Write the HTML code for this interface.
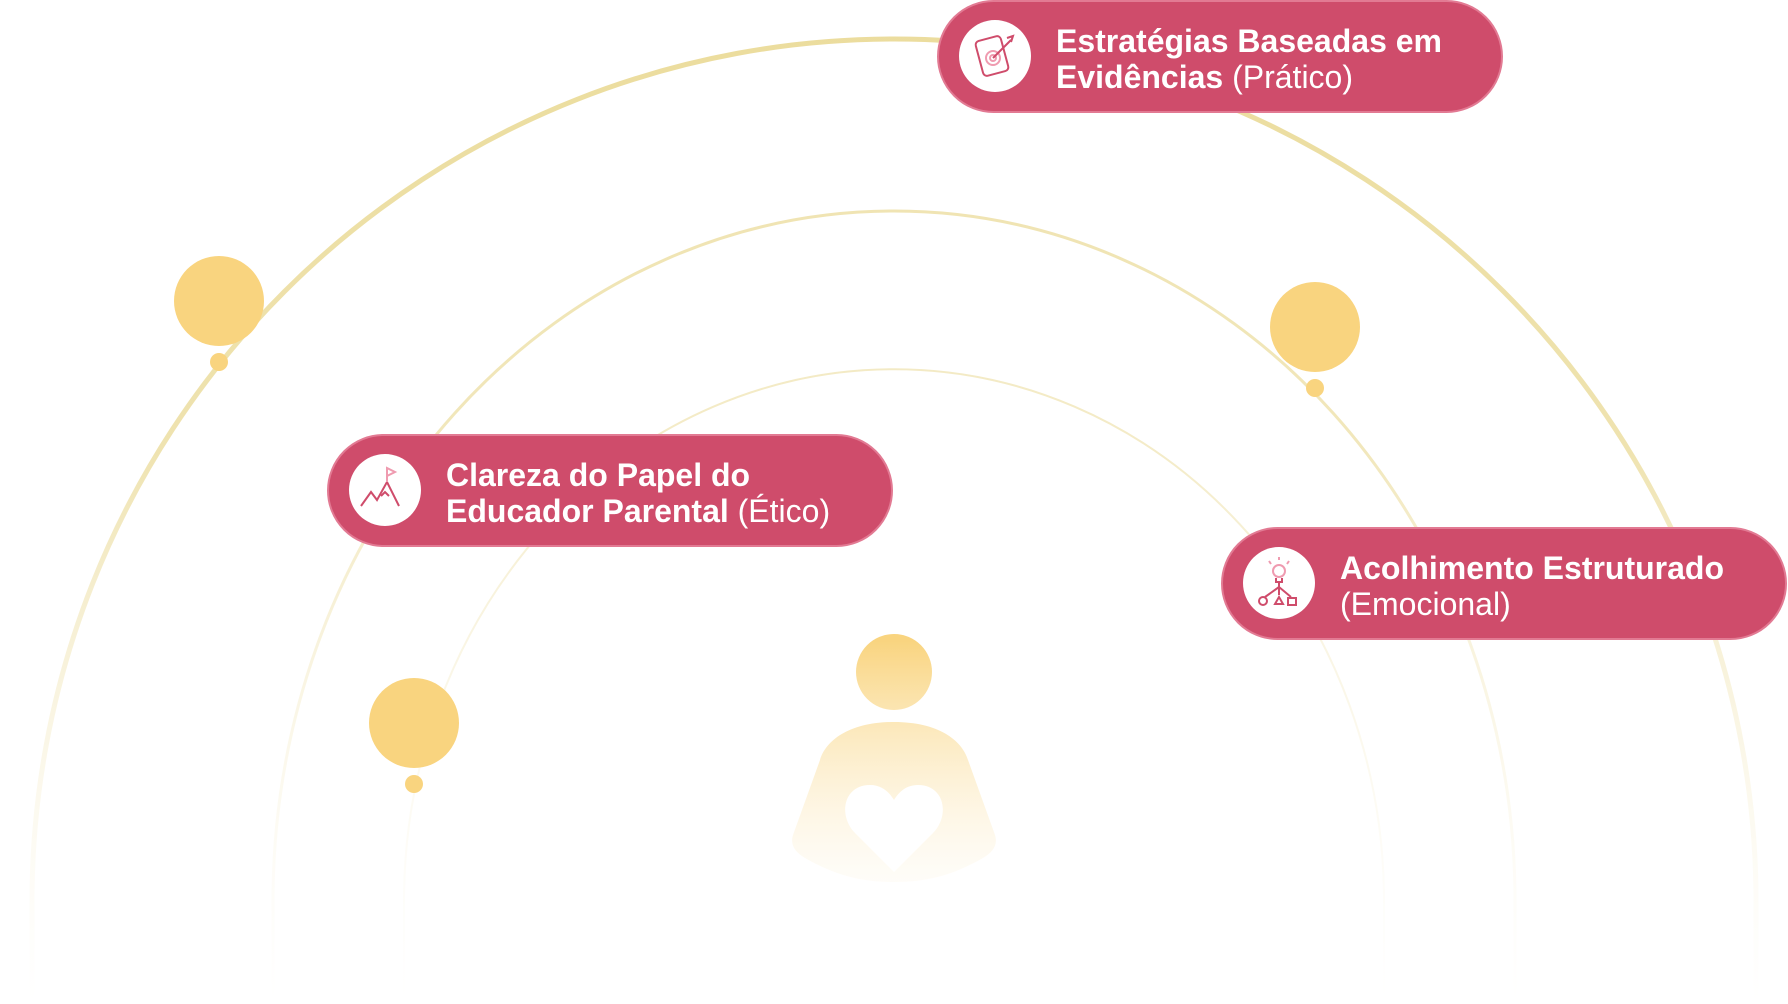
<!DOCTYPE html>
<html><head><meta charset="utf-8"><style>
html,body{margin:0;padding:0;background:#fff;width:1788px;height:1004px;overflow:hidden;}
body{position:relative;font-family:"Liberation Sans",sans-serif;}
.pill{position:absolute;background:#cf4c6b;border:2px solid #e27a93;border-radius:60px;box-sizing:border-box;height:113px;width:566px;}
.ic{position:absolute;width:72px;height:72px;border-radius:50%;background:#fff;top:18px;left:20px;}
.t{position:absolute;left:117px;top:21px;color:#fff;font-size:32px;line-height:36px;font-weight:bold;white-space:nowrap;}
.t span{font-weight:normal;}
</style></head><body>
<svg width="1788" height="1004" style="position:absolute;left:0;top:0;display:block">
<defs>
<linearGradient id="fade" x1="0" y1="0" x2="0" y2="1004" gradientUnits="userSpaceOnUse">
<stop offset="0" stop-color="#ebdc9c"/><stop offset="0.45" stop-color="#efe3b0"/><stop offset="1" stop-color="#fbf6e6" stop-opacity="0"/></linearGradient>
<linearGradient id="body" x1="0" y1="640" x2="0" y2="885" gradientUnits="userSpaceOnUse">
<stop offset="0" stop-color="#f9d47f"/><stop offset="1" stop-color="#fdf4df" stop-opacity="0.2"/></linearGradient>
</defs>
<g fill="none" stroke="url(#fade)">
<path d="M32 1000 L32 901 A862 862 0 0 1 1756 901 L1756 1000" stroke-width="5"/>
<path d="M273 1000 L273 901 A621 690 0 0 1 1515 901 L1515 1000" stroke-width="3" opacity="0.85"/>
<path d="M404 1000 L404 901 A490 532 0 0 1 1384 901 L1384 1000" stroke-width="2" opacity="0.7"/>
</g>
<g fill="#f9d47f">
<circle cx="219" cy="301" r="45"/><circle cx="219" cy="362" r="9"/>
<circle cx="1315" cy="327" r="45"/><circle cx="1315" cy="388" r="9"/>
<circle cx="414" cy="723" r="45"/><circle cx="414" cy="784" r="9"/>
</g>
<circle cx="894" cy="672" r="38" fill="url(#body)"/>
<path d="M894 722 C850 722 826 740 820 760 L793 835 C790 845 795 852 805 858 C835 875 860 882 894 882 C928 882 953 875 983 858 C993 852 998 845 995 835 L968 760 C962 740 938 722 894 722Z" fill="url(#body)"/>
<path d="M894 872 L855 833 C838 816 843 785 870 785 C882 785 889 792 894 800 C899 792 906 785 918 785 C945 785 950 816 933 833Z" fill="#fff"/>
</svg>

<div class="pill" style="left:937px;top:0px;">
<div class="ic"><svg width="72" height="72" fill="none" stroke="#cf4c6b" stroke-width="2"><rect x="20" y="18" width="26" height="36" rx="4" transform="rotate(-15 33 36)"/><circle cx="34" cy="38" r="7" stroke="#ef9bb0"/><circle cx="34" cy="38" r="3" stroke="#ef9bb0"/><path d="M34 38 L52 20 M48 18 L54 16 L52 22"/></svg></div>
<div class="t">Estratégias Baseadas em<br>Evidências <span>(Prático)</span></div>
</div>

<div class="pill" style="left:327px;top:434px;">
<div class="ic"><svg width="72" height="72" fill="none" stroke="#cf4c6b" stroke-width="2"><path d="M12 52 L22 38 L28 46 L38 28 L50 52"/><path d="M38 28 L38 14 L46 18 L38 22" stroke="#ef9bb0"/><path d="M32 42 L36 38 L40 42" /></svg></div>
<div class="t">Clareza do Papel do<br>Educador Parental <span>(Ético)</span></div>
</div>

<div class="pill" style="left:1221px;top:527px;">
<div class="ic"><svg width="72" height="72" fill="none" stroke="#cf4c6b" stroke-width="2"><circle cx="36" cy="24" r="6" stroke="#ef9bb0"/><path d="M33 31 L33 35 L39 35 L39 31 M36 35 L36 40 M36 40 L22 50 M36 40 L36 48 M36 40 L48 50"/><circle cx="20" cy="54" r="4"/><path d="M36 50 L32 57 L40 57Z"/><rect x="45" y="51" width="8" height="7"/><path d="M26 14 L28 17 M46 14 L44 17 M36 10 L36 13" stroke="#ef9bb0"/></svg></div>
<div class="t">Acolhimento Estruturado<br><span>(Emocional)</span></div>
</div>
</body></html>
